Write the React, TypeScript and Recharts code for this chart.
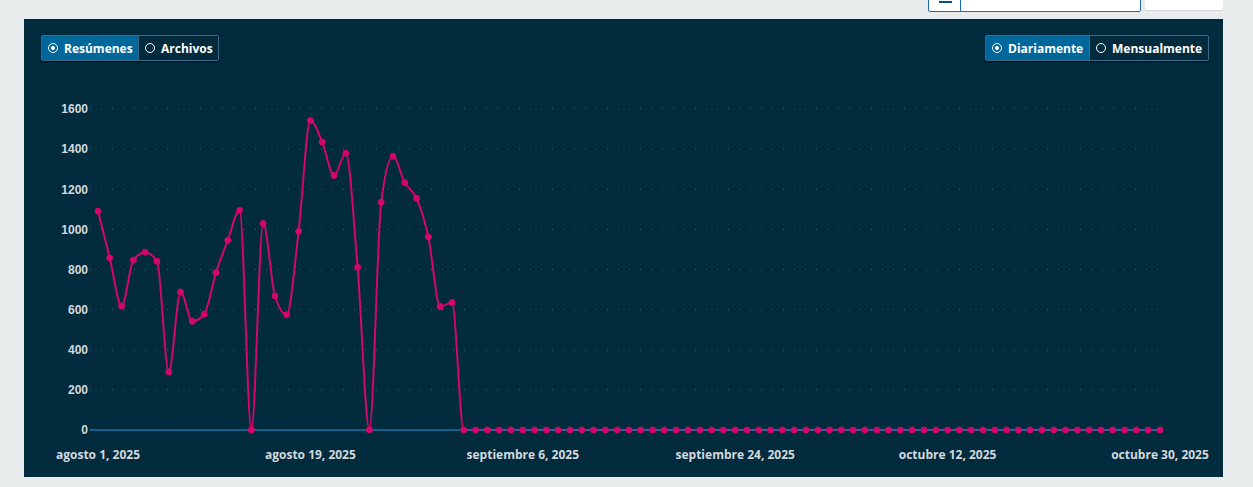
import React from "react";
import { LineChart, Line, XAxis, YAxis, CartesianGrid } from "recharts";

const monthNames = ["agosto", "septiembre", "octubre"];
const monthDays = [31, 30, 30];
const year = 2025;

const values = [
  1090, 857, 618, 847, 886, 841, 289, 688, 542, 577, 784, 946, 1095, 0, 1029, 668,
  575, 990, 1542, 1436, 1268, 1379, 811, 0, 1135, 1364, 1233, 1155, 962, 615, 635,
  0, 0, 0, 0, 0, 0, 0, 0, 0, 0, 0, 0, 0, 0, 0, 0, 0, 0, 0, 0, 0, 0, 0, 0, 0, 0, 0, 0, 0, 0,
  0, 0, 0, 0, 0, 0, 0, 0, 0, 0, 0, 0, 0, 0, 0, 0, 0, 0, 0, 0, 0, 0, 0, 0, 0, 0, 0, 0, 0, 0,
];

const yTicks = [0, 200, 400, 600, 800, 1000, 1200, 1400, 1600];

const dates: string[] = [];
monthNames.forEach((m, i) => {
  for (let d = 1; d <= monthDays[i]; d++) dates.push(`${m} ${d}, ${year}`);
});
const data = dates.map((date, i) => ({ date, value: values[i] }));

const CARD = "#022b3e";
const ACTIVE = "#00679a";
const BORDER = "#3b6a84";
const PINK = "#d4066c";

function Radio({ checked }: { checked: boolean }) {
  return (
    <span
      style={{
        display: "inline-block",
        width: 8,
        height: 8,
        borderRadius: "50%",
        border: "1.5px solid #fff",
        marginRight: 6,
        position: "relative",
        boxSizing: "content-box",
      }}
    >
      {checked && (
        <span
          style={{
            position: "absolute",
            left: 2,
            top: 2,
            width: 4,
            height: 4,
            borderRadius: "50%",
            background: "#fff",
          }}
        />
      )}
    </span>
  );
}

function Toggle({ items, left, top, widths }: { items: string[]; left: number; top: number; widths: number[] }) {
  return (
    <div
      style={{
        position: "absolute",
        left,
        top,
        height: 24,
        display: "flex",
        border: `1px solid ${BORDER}`,
        borderRadius: 2,
        boxShadow: "0 1px 1px rgba(0,0,0,0.6)",
        fontFamily: "'Open Sans', sans-serif",
        fontWeight: 700,
        fontSize: 12,
        color: "#fff",
      }}
    >
      {items.map((it, i) => (
        <div
          key={it}
          style={{
            width: widths[i],
            background: i === 0 ? ACTIVE : CARD,
            borderLeft: i > 0 ? `1px solid ${BORDER}` : "none",
            display: "flex",
            alignItems: "center",
            paddingLeft: 6,
            boxSizing: "border-box",
          }}
        >
          <Radio checked={i === 0} />
          {it}
        </div>
      ))}
    </div>
  );
}

export default function App() {
  return (
    <div
      style={{
        position: "absolute",
        left: 0,
        top: 0,
        width: 1253,
        height: 487,
        background: "#e8ecec",
        overflow: "hidden",
      }}
    >
      <div
        style={{
          position: "absolute",
          left: 928,
          top: -20,
          width: 211,
          height: 30,
          background: "#fff",
          border: "1px solid #1b6ea3",
          borderRadius: 2,
        }}
      >
        <div style={{ position: "absolute", left: 31, top: 0, width: 1, height: 31, background: "#1b6ea3" }} />
        <div style={{ position: "absolute", left: 10, top: 20, width: 13, height: 2, background: "#0d4f7a" }} />
      </div>
      <div
        style={{
          position: "absolute",
          left: 1145,
          top: -20,
          width: 78,
          height: 30,
          background: "#fff",
          borderRadius: 2,
          boxShadow: "0 1px 1px #cfd4d6",
        }}
      />
      <div
        style={{
          position: "absolute",
          left: 24,
          top: 19,
          width: 1199,
          height: 458,
          background: CARD,
        }}
      >
        <Toggle items={["Resúmenes", "Archivos"]} left={17} top={16} widths={[96, 80]} />
        <Toggle items={["Diariamente", "Mensualmente"]} left={961} top={16} widths={[103, 119]} />
        <div style={{ position: "absolute", left: 0, top: 0 }}>
          <LineChart
            width={1199}
            height={458}
            data={data}
            margin={{ top: 90, right: 63, bottom: 17, left: 0 }}
          >
            <CartesianGrid vertical={false} stroke="#0d72a6" strokeDasharray="1 10" />
            <XAxis
              dataKey="date"
              interval={17}
              padding={{ left: 8, right: 0 }}
              height={30}
              tickLine={false}
              tickSize={0}
              tickMargin={20}
              axisLine={{ stroke: "#1873a8", strokeWidth: 1.5 }}
              tick={{ fill: "#d3d9dd", fontSize: 12, fontWeight: 700, fontFamily: "'Open Sans', sans-serif" }}
            />
            <YAxis
              width={66}
              domain={[0, 1600]}
              ticks={yTicks}
              axisLine={false}
              tickLine={false}
              tickSize={0}
              tickMargin={2}
              tick={{ fill: "#d3d9dd", fontSize: 12, fontWeight: 700, fontFamily: "'Liberation Sans', Arial, sans-serif" }}
            />
            <Line
              type="monotone"
              dataKey="value"
              stroke={PINK}
              strokeWidth={2}
              dot={{ r: 3, fill: PINK, stroke: PINK, strokeWidth: 1 }}
              isAnimationActive={false}
            />
          </LineChart>
        </div>
      </div>
    </div>
  );
}
